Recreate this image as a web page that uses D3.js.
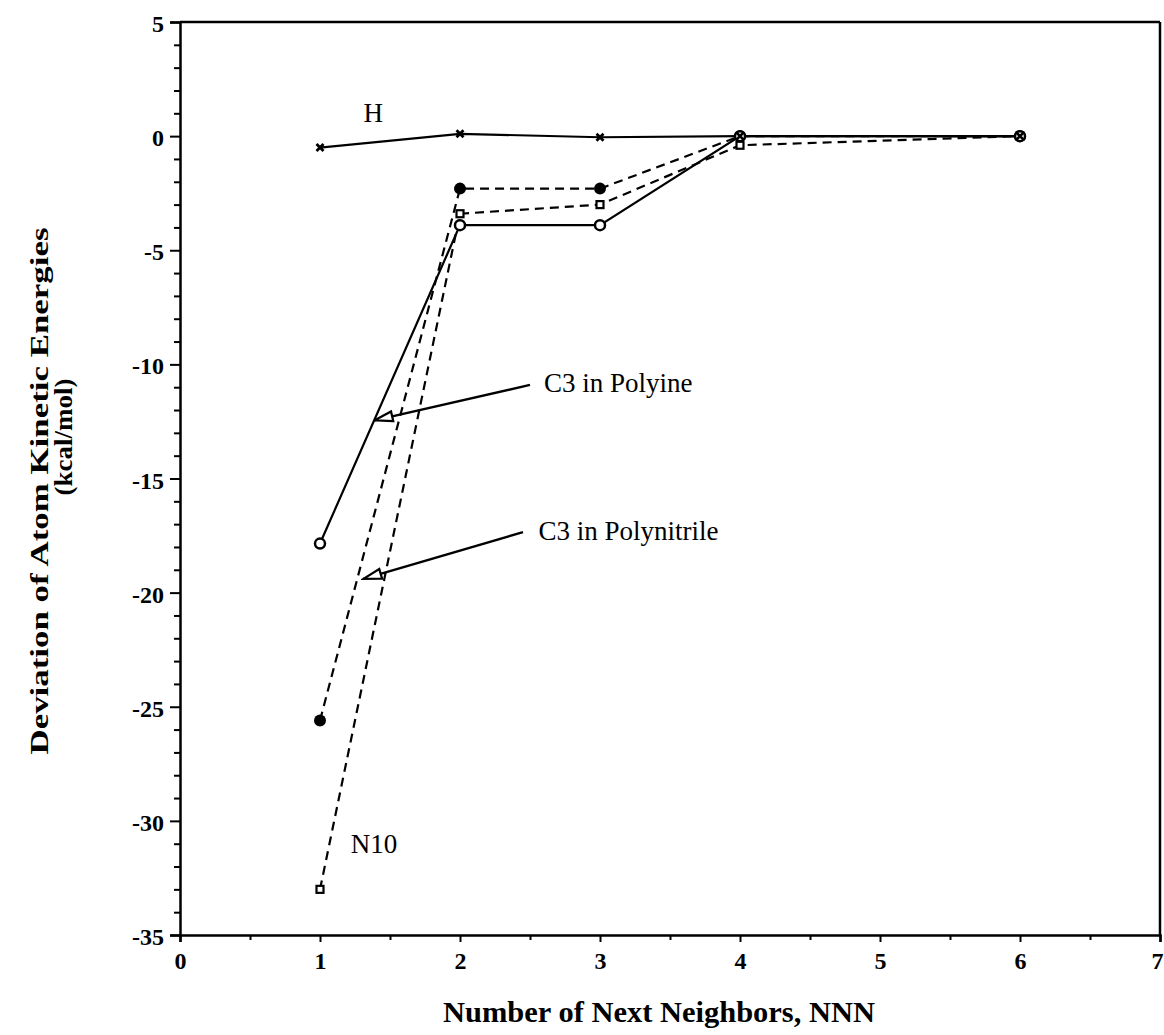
<!DOCTYPE html>
<html>
<head>
<meta charset="utf-8">
<script src="https://cdn.jsdelivr.net/npm/d3@7"></script>
<style>
  body { margin: 0; background: #fff; }
  svg { display: block; }
  text { font-family: "Liberation Serif", "Times New Roman", serif; fill: #000; }
</style>
</head>
<body>
<svg id="chart" width="1164" height="1035"></svg>
<script>
// Datos
const nnn = [1, 2, 3, 4, 6];
const hValues = [-0.5, 0.1, -0.05, 0, 0];
const openCircleValues = [-17.85, -3.9, -3.9, 0, 0];
const filledCircleValues = [-25.6, -2.3, -2.3, 0, 0];
const squareValues = [-33.0, -3.4, -3.0, -0.4, 0];

const xTicks = [0, 1, 2, 3, 4, 5, 6, 7];
const yTicks = [5, 0, -5, -10, -15, -20, -25, -30, -35];

// Anotaciones: [texto, x, y] en unidades de datos
const labels = [
  ["H", 1.31, 0.6],
  ["C3 in Polyine", 2.6, -11.2],
  ["C3 in Polynitrile", 2.56, -17.7],
  ["N10", 1.22, -31.4]
];
// Flechas: [desde x, desde y, hasta x, hasta y]
const arrows = [
  [2.5, -10.9, 1.39, -12.45],
  [2.45, -17.35, 1.31, -19.4]
];

const svg = d3.select("#chart");

const x = d3.scaleLinear().domain([0, 7]).range([180, 1160]);
const y = d3.scaleLinear().domain([-35, 5]).range([935, 22]);

// Marco superior y derecho
svg.append("line").attr("x1", x(0)).attr("x2", x(7)).attr("y1", y(5)).attr("y2", y(5))
  .attr("stroke", "#000").attr("stroke-width", 2.5);
svg.append("line").attr("x1", x(7)).attr("x2", x(7)).attr("y1", y(5)).attr("y2", y(-35))
  .attr("stroke", "#000").attr("stroke-width", 2.5);

// Ejes
const yMinor = d3.range(-35, 6, 1).filter(v => v % 5 !== 0);
const xMinor = d3.range(0.5, 7, 1);

function styleAxis(g) {
  g.attr("font-size", null).attr("font-family", null);
  g.select(".domain").attr("stroke-width", 2.5);
  g.selectAll(".tick line").attr("stroke-width", 2);
  g.selectAll("text")
    .style("font-family", "'Liberation Serif', serif")
    .style("font-weight", "bold")
    .style("font-size", "24px");
}

svg.append("g").attr("transform", `translate(${x(0)},0)`)
  .call(d3.axisLeft(y).tickValues(yMinor).tickSize(6).tickFormat(""))
  .call(g => g.select(".domain").remove())
  .selectAll("line").attr("stroke-width", 2);

svg.append("g").attr("transform", `translate(${x(0)},0)`)
  .call(d3.axisLeft(y).tickValues(yTicks).tickSize(10).tickPadding(6).tickFormat(d => String(d)))
  .call(styleAxis)
  .call(g => g.selectAll("text").attr("dy", "0.4em"));

svg.append("g").attr("transform", `translate(0,${y(-35)})`)
  .call(d3.axisBottom(x).tickValues(xMinor).tickSize(5).tickFormat(""))
  .call(g => g.select(".domain").remove())
  .selectAll("line").attr("stroke-width", 2);

svg.append("g").attr("transform", `translate(0,${y(-35)})`)
  .call(d3.axisBottom(x).tickValues(xTicks).tickSize(7).tickPadding(10).tickFormat(d => String(d)))
  .call(styleAxis)
  .call(g => g.selectAll(".tick").filter(d => d === 7).select("text")
    .attr("text-anchor", "end").attr("x", 3));

// Títulos de ejes
svg.append("text")
  .attr("x", 659).attr("y", 1022)
  .attr("text-anchor", "middle")
  .attr("textLength", 432).attr("lengthAdjust", "spacingAndGlyphs")
  .style("font-weight", "bold").style("font-size", "29px")
  .text("Number of Next Neighbors, NNN");

svg.append("text")
  .attr("transform", "translate(48,491) rotate(-90)")
  .attr("text-anchor", "middle")
  .attr("textLength", 527).attr("lengthAdjust", "spacingAndGlyphs")
  .style("font-weight", "bold").style("font-size", "25px")
  .text("Deviation of Atom Kinetic Energies");

svg.append("text")
  .attr("transform", "translate(72,437) rotate(-90)")
  .attr("text-anchor", "middle")
  .attr("textLength", 117).attr("lengthAdjust", "spacingAndGlyphs")
  .style("font-weight", "bold").style("font-size", "25px")
  .text("(kcal/mol)");

// Series
const line = d3.line().x((d, i) => x(nnn[i])).y(d => y(d));

function drawLine(values, dashed) {
  svg.append("path")
    .datum(values)
    .attr("d", line)
    .attr("fill", "none")
    .attr("stroke", "#000")
    .attr("stroke-width", 2.2)
    .attr("stroke-dasharray", dashed ? "9,6" : null);
}

drawLine(squareValues, true);
drawLine(filledCircleValues, true);
drawLine(openCircleValues, false);
drawLine(hValues, false);

// Marcadores
svg.selectAll(".sq").data(squareValues).enter().append("rect")
  .attr("x", (d, i) => x(nnn[i]) - 3.5).attr("y", d => y(d) - 3.5)
  .attr("width", 7).attr("height", 7)
  .attr("fill", "#fff").attr("stroke", "#000").attr("stroke-width", 2.2);

svg.selectAll(".fc").data(filledCircleValues).enter().append("circle")
  .attr("cx", (d, i) => x(nnn[i])).attr("cy", d => y(d)).attr("r", 6)
  .attr("fill", "#000");

svg.selectAll(".oc").data(openCircleValues).enter().append("circle")
  .attr("cx", (d, i) => x(nnn[i])).attr("cy", d => y(d)).attr("r", 5)
  .attr("fill", "#fff").attr("stroke", "#000").attr("stroke-width", 2.5);

svg.selectAll(".hx").data(hValues).enter().append("path")
  .attr("transform", (d, i) => `translate(${x(nnn[i])},${y(d)})`)
  .attr("d", "M-3.5,-3.5L3.5,3.5M-3.5,3.5L3.5,-3.5")
  .attr("stroke", "#000").attr("stroke-width", 2.8);

// Flechas
svg.append("defs").append("marker")
  .attr("id", "arrow")
  .attr("viewBox", "0 0 22 14")
  .attr("refX", 20).attr("refY", 7)
  .attr("markerWidth", 22).attr("markerHeight", 14)
  .attr("markerUnits", "userSpaceOnUse")
  .attr("orient", "auto")
  .append("path")
  .attr("d", "M2,2L20,7L2,12Z")
  .attr("fill", "#fff").attr("stroke", "#000").attr("stroke-width", 2.2);

svg.selectAll(".arrow").data(arrows).enter().append("line")
  .attr("x1", d => x(d[0])).attr("y1", d => y(d[1]))
  .attr("x2", d => x(d[2])).attr("y2", d => y(d[3]))
  .attr("stroke", "#000").attr("stroke-width", 2.4)
  .attr("marker-end", "url(#arrow)");

// Etiquetas
svg.selectAll(".lbl").data(labels).enter().append("text")
  .attr("x", d => x(d[1])).attr("y", d => y(d[2]))
  .style("font-size", "27px")
  .text(d => d[0]);
</script>
</body>
</html>
